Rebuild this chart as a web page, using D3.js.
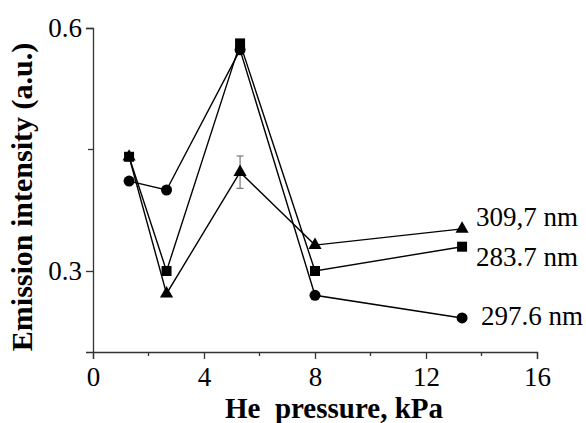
<!DOCTYPE html>
<html>
<head>
<meta charset="utf-8">
<script src="https://cdn.jsdelivr.net/npm/d3@7"></script>
<style>
  body { margin: 0; background: #fff; }
  text { font-family: "Liberation Serif", "Times New Roman", Times, serif; fill: #000; }
</style>
</head>
<body>
<div id="chart"></div>
<script>
// data
const pressure = [1.3, 2.65, 5.3, 8, 13.3];
const nm283 = [0.441, 0.300, 0.581, 0.300, 0.330];
const nm309 = [0.441, 0.272, 0.422, 0.332, 0.352];
const nm297 = [0.411, 0.400, 0.573, 0.270, 0.242];
const errIdx = 2, errSize = 0.02;   // only error bar on 309,7 nm at 5.3 kPa
const xTicks = [0, 4, 8, 12, 16];
const xMinor = [2, 6, 10, 14];
const yTicks = [0.3, 0.6];
const yMinor = [0.45];
const seriesNames = ["309,7 nm", "283.7 nm", "297.6 nm"];

const serif = "'Liberation Serif', 'Times New Roman', Times, serif";
const width = 586, height = 423;
const margin = { top: 28, right: 49, bottom: 71, left: 93 };

const svg = d3.select("#chart").append("svg")
  .attr("width", width).attr("height", height);

const x = d3.scaleLinear().domain([0, 16]).range([margin.left, width - margin.right]);
const y = d3.scaleLinear().domain([0.2, 0.6]).range([height - margin.bottom, margin.top]);

// axes
const xAxis = svg.append("g")
  .attr("transform", `translate(0,${y(0.2)})`)
  .call(d3.axisBottom(x).tickValues(xTicks).tickFormat(d3.format("d")).tickSizeOuter(0).tickSize(7).tickPadding(8));
xAxis.append("g").selectAll("line").data(xMinor).enter().append("line")
  .attr("x1", d => x(d)).attr("x2", d => x(d)).attr("y1", 0).attr("y2", 4);

const yAxis = svg.append("g")
  .attr("transform", `translate(${x(0)},0)`)
  .call(d3.axisLeft(y).tickValues(yTicks).tickFormat(d3.format(".1f")).tickSizeOuter(0).tickSize(7).tickPadding(4));
yAxis.append("g").selectAll("line").data(yMinor).enter().append("line")
  .attr("y1", d => y(d)).attr("y2", d => y(d)).attr("x1", 0).attr("x2", -5);

[xAxis, yAxis].forEach(a => {
  a.attr("font-family", serif).attr("font-size", 27);
  a.selectAll("line").attr("stroke", "#333").attr("stroke-width", 1.3);
  a.select(".domain").attr("stroke", "#333").attr("stroke-width", 1.3);
  a.selectAll("text").attr("fill", "#000");
});

// lines
const line = d3.line().x((d, i) => x(pressure[i])).y(d => y(d));
[nm309, nm283, nm297].forEach(s => {
  svg.append("path").datum(s)
    .attr("d", line).attr("fill", "none")
    .attr("stroke", "#000").attr("stroke-width", 1.4);
});

// error bar
const ex = x(pressure[errIdx]);
const eg = svg.append("g").attr("stroke", "#777").attr("stroke-width", 1.2);
eg.append("line").attr("x1", ex).attr("x2", ex)
  .attr("y1", y(nm309[errIdx] + errSize)).attr("y2", y(nm309[errIdx] - errSize));
[nm309[errIdx] + errSize, nm309[errIdx] - errSize].forEach(v => {
  eg.append("line").attr("x1", ex - 3.5).attr("x2", ex + 3.5)
    .attr("y1", y(v)).attr("y2", y(v));
});

// markers
const tri = d3.symbol().type(d3.symbolTriangle).size(75);
svg.append("g").selectAll("path").data(nm309).enter().append("path")
  .attr("d", tri)
  .attr("transform", (d, i) => `translate(${x(pressure[i])},${y(d)})`)
  .attr("fill", "#000");

svg.append("g").selectAll("rect").data(nm283).enter().append("rect")
  .attr("x", (d, i) => x(pressure[i]) - 5).attr("y", d => y(d) - 5)
  .attr("width", 10).attr("height", 10).attr("fill", "#000");

svg.append("g").selectAll("circle").data(nm297).enter().append("circle")
  .attr("cx", (d, i) => x(pressure[i])).attr("cy", d => y(d))
  .attr("r", 5.5).attr("fill", "#000");

// series labels at the right end
const last = pressure.length - 1;
const labelY = [nm309[last], nm283[last], nm297[last]];
const labelDx = [14, 14, 19];
const labelDy = [-3, 19, 7];
svg.append("g").selectAll("text").data(seriesNames).enter().append("text")
  .attr("x", (d, i) => x(pressure[last]) + labelDx[i])
  .attr("y", (d, i) => y(labelY[i]) + labelDy[i])
  .attr("font-family", serif).attr("font-size", 27)
  .text(d => d);

// axis titles
svg.append("text")
  .attr("x", 334).attr("y", 418)
  .attr("text-anchor", "middle")
  .attr("font-family", serif).attr("font-size", 29).attr("font-weight", "bold")
  .attr("xml:space", "preserve")
  .text("He  pressure, kPa");

svg.append("text")
  .attr("transform", "translate(32,197) rotate(-90)")
  .attr("text-anchor", "middle")
  .attr("font-family", serif).attr("font-size", 30).attr("font-weight", "bold")
  .text("Emission intensity (a.u.)");
</script>
</body>
</html>
